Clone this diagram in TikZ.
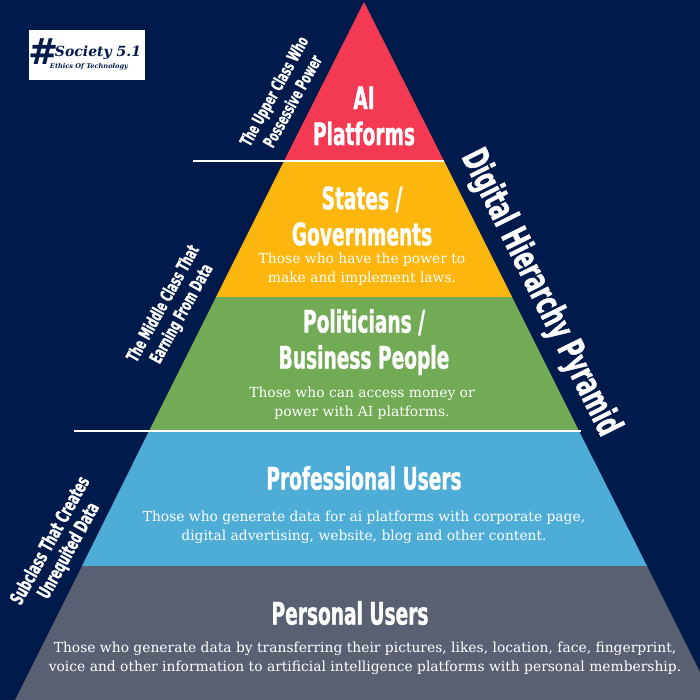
\documentclass[tikz,border=0pt]{standalone}
\usepackage{fontspec}
\setmainfont{DejaVu Serif}
\newfontfamily\headfont[FakeStretch=0.6,FakeBold=1]{DejaVu Sans}
\usepackage{xcolor}
\definecolor{NavyBack}{RGB}{0,26,75}
\definecolor{TopRed}{RGB}{244,58,83}
\definecolor{StateYellow}{RGB}{253,182,13}
\definecolor{BusinessGreen}{RGB}{114,171,85}
\definecolor{ProBlue}{RGB}{77,173,215}
\definecolor{PersonalGrey}{RGB}{88,96,114}
\tikzset{
    heading/.style={text=white, align=center, font=\headfont\bfseries\fontsize{31}{36}\selectfont},
    sidelabel/.style={text=white, align=center, rotate=61, font=\headfont\bfseries\fontsize{#1}{21}\selectfont},
    desc/.style={text=white, align=center, font=\fontsize{13.85}{19}\selectfont}
}
\begin{document}
\begin{tikzpicture}[x=1pt, y=-1pt]
    \useasboundingbox (0,0) rectangle (700,700);
    % Background
    \fill[NavyBack] (0,0) rectangle (700,700);

    % Pyramid bands
    \begin{scope}
        \clip (0,0) rectangle (700,700);
        \fill[TopRed] (364,2) -- (444,161) -- (284,161) -- cycle;
        \fill[StateYellow] (284,161) -- (444,161) -- (512,297) -- (216,297) -- cycle;
        \fill[BusinessGreen] (216,297) -- (512,297) -- (579,431) -- (149,431) -- cycle;
        \fill[ProBlue] (149,431) -- (579,431) -- (647,566) -- (82,566) -- cycle;
        \fill[PersonalGrey] (82,566) -- (647,566) -- (714,700) -- (15,700) -- cycle;
    \end{scope}

    % Class lines
    \draw[white, line width=2pt] (193,161) -- (444,161);
    \draw[white, line width=2pt] (74,431) -- (581,431);

    % Headings
    \node[heading] (ai) at (364,116) {AI\\Platforms};
    \node[heading] (states) at (362,216) {States /\\Governments};
    \node[heading] (politicians) at (364,342) {Politicians /\\Business People};
    \node[heading] (professional) at (364,478) {Professional Users};
    \node[heading] (personal) at (350,613) {Personal Users};

    % Descriptions
    \node[desc] (statesdesc) at (362,269) {Those who have the power to\\make and implement laws.};
    \node[desc] (politiciansdesc) at (362,403) {Those who can access money or\\power with AI platforms.};
    \node[desc] (professionaldesc) at (364,527) {Those who generate data for ai platforms with corporate page,\\digital advertising, website, blog and other content.};
    \node[desc] (personaldesc) at (365,658) {Those who generate data by transferring their pictures, likes, location, face, fingerprint,\\voice and other information to artificial intelligence platforms with personal membership.};

    % Side labels
    \node[sidelabel=17] (upper) at (283,96) {The Upper Class Who\\Possessive Power};
    \node[sidelabel=17.5] (middle) at (173,309) {The Middle Class That\\Earning From Data};
    \node[sidelabel=19] (subclass) at (60,546) {Subclass That Creates\\Unrequited Data};
    \node[text=white, font=\headfont\bfseries\fontsize{36}{40}\selectfont, rotate=-63.5] (title) at (540,293) {Digital Hierarchy Pyramid};

    % Logo
    \node[fill=white, minimum width=116pt, minimum height=50pt, inner sep=0pt] (logo) at (87,55) {};
    \node[text=NavyBack, font=\bfseries\itshape\fontsize{36}{36}\selectfont, inner sep=0pt] (hash) at (44,52) {\#};
    \node[text=NavyBack, font=\bfseries\itshape\fontsize{14}{14}\selectfont, inner sep=0pt] (society) at (98,53) {Society 5.1};
    \node[text=NavyBack, font=\bfseries\itshape\fontsize{6.6}{7}\selectfont, inner sep=0pt] (ethics) at (89,67) {Ethics Of Technology};
\end{tikzpicture}
\end{document}
